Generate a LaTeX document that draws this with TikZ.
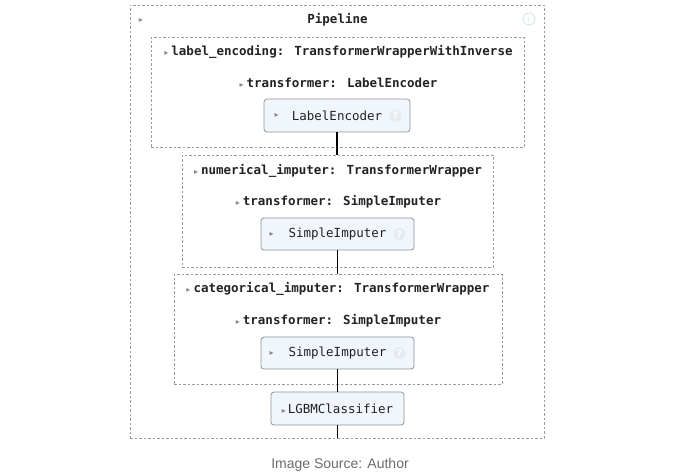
\documentclass[tikz,border=0pt]{standalone}
\usepackage{fontspec}
\newfontfamily\mono{DejaVu Sans Mono}
\newfontfamily\dvs{DejaVu Sans}
\newfontfamily\capf{Liberation Sans}
\definecolor{dashgray}{HTML}{9A9A9A}
\definecolor{boxborder}{HTML}{8E959C}
\definecolor{boxfill}{HTML}{F0F6FC}
\definecolor{textc}{HTML}{222222}
\definecolor{trigray}{HTML}{8A8A8A}
\definecolor{capgray}{HTML}{6B6B6B}
\definecolor{iconc}{HTML}{D3E1EE}
\definecolor{qfill}{HTML}{E6EBF0}
\newcommand\tri{{\dvs\color{trigray}\fontsize{8}{8}\selectfont ▸}}
\tikzset{
  dbox/.style={draw=dashgray, dash pattern=on 2.5pt off 2pt, line width=0.8pt, inner sep=0pt},
  ebox/.style={draw=boxborder, fill=boxfill, rounded corners=3pt, line width=0.8pt, inner sep=0pt,
     font=\mono\fontsize{12.5}{15}\selectfont, text=textc},
  ttl/.style={font=\mono\bfseries\fontsize{12.5}{15}\selectfont, text=textc, inner sep=0pt},
  trin/.style={font=\dvs\fontsize{8}{8}\selectfont, text=trigray, inner sep=0pt},
  qicon/.style={circle, fill=qfill, minimum size=12pt, inner sep=0pt, text=white,
     font=\dvs\bfseries\fontsize{9}{9}\selectfont},
  conn/.style={draw=black, line width=1.8pt}
}
\begin{document}
\begin{tikzpicture}[x=1pt,y=-1pt]
\useasboundingbox (0,0) rectangle (680,474);
% outer pipeline box
\node[dbox, minimum width=414pt, minimum height=433pt] (outer) at (337,221.5) {};
\node[trin] (ot) at (141,20) {▸};
\node[ttl] (pt) at (337.5,20) {Pipeline};
\node[circle, draw=iconc, line width=0.8pt, minimum size=12pt, inner sep=0pt, text=iconc,
  font=\dvs\fontsize{8}{8}\selectfont] (info) at (529,19) {i};
% box 1
\node[dbox, minimum width=373pt, minimum height=110pt] (b1) at (337.5,92) {};
\node[ttl] (b1t) at (338.5,52) {\tri\hspace{3pt}label\_encoding: TransformerWrapperWithInverse};
\node[ttl] (b1s) at (338.5,83) {\tri\hspace{3pt}transformer: LabelEncoder};
\node[ebox, minimum width=146pt, minimum height=33pt] (le) at (337,115.5) {LabelEncoder};
\node[trin] (let) at ([xshift=13pt]le.west) {▸};
\node[qicon] (leq) at ([xshift=-15pt]le.east) {?};
% box 2
\node[dbox, minimum width=311pt, minimum height=112pt] (b2) at (337.5,211) {};
\node[ttl] (b2t) at (338,171) {\tri\hspace{3pt}numerical\_imputer: TransformerWrapper};
\node[ttl] (b2s) at (338.5,202) {\tri\hspace{3pt}transformer: SimpleImputer};
\node[ebox, minimum width=153pt, minimum height=32pt] (si1) at (337.5,234) {SimpleImputer};
\node[trin] (si1t) at ([xshift=11pt]si1.west) {▸};
\node[qicon] (si1q) at ([xshift=-15pt]si1.east) {?};
% box 3
\node[dbox, minimum width=328pt, minimum height=110pt] (b3) at (338,329) {};
\node[ttl] (b3t) at (338,289) {\tri\hspace{3pt}categorical\_imputer: TransformerWrapper};
\node[ttl] (b3s) at (338.5,321) {\tri\hspace{3pt}transformer: SimpleImputer};
\node[ebox, minimum width=153pt, minimum height=32pt] (si2) at (337.5,353) {SimpleImputer};
\node[trin] (si2t) at ([xshift=11pt]si2.west) {▸};
\node[qicon] (si2q) at ([xshift=-15pt]si2.east) {?};
% final estimator
\node[ebox, minimum width=133pt, minimum height=33pt] (lg) at (337.5,408.5) {\tri\hspace{2pt}LGBMClassifier};
% connectors
\draw[conn] (le.south) -- (le.south |- b2.north);
\draw[conn] (si1.south) -- (si1.south |- b3.north);
\draw[conn] (si2.south) -- (lg.north);
\draw[conn] (lg.south) -- (lg.south |- outer.south);
% caption
\node[font=\capf\fontsize{14}{16}\selectfont, text=capgray] (cap) at (340,465) {Image Source: Author};
\end{tikzpicture}
\end{document}
